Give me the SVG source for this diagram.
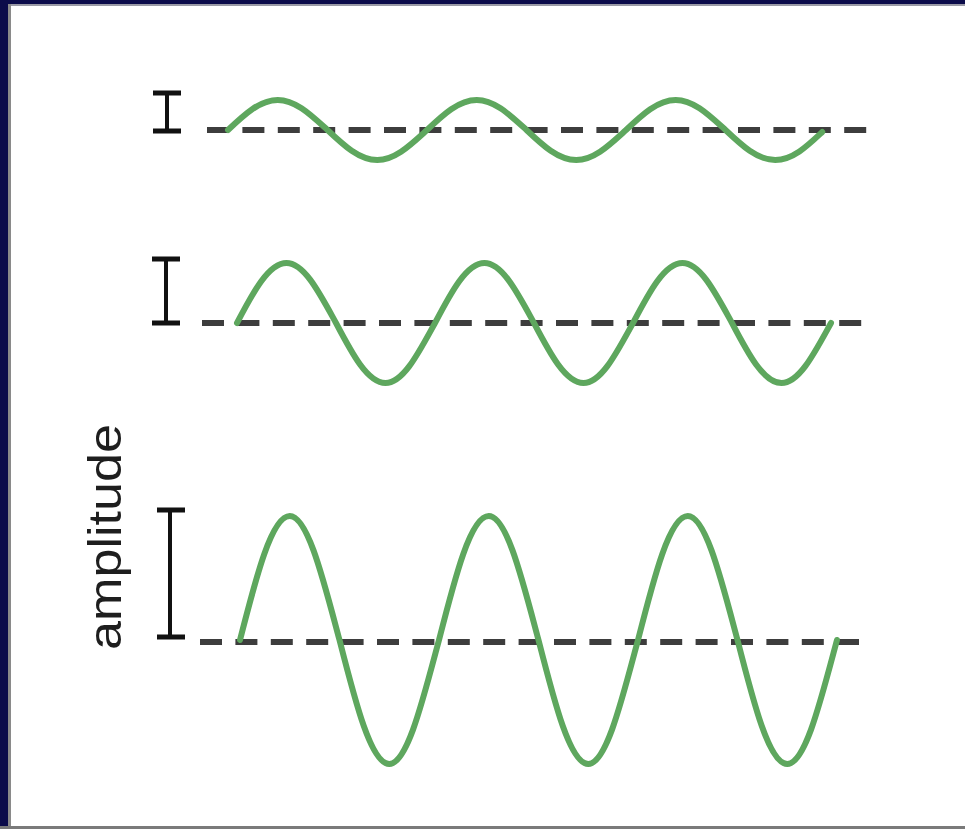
<svg xmlns="http://www.w3.org/2000/svg" width="965" height="829" viewBox="0 0 965 829">
  <style>
    .wave { fill: none; stroke: #5ea75e; stroke-width: 6; stroke-linecap: round; stroke-linejoin: round; }
    .base { fill: none; stroke: #3d3d3d; stroke-width: 6; stroke-dasharray: 22 13.4; }
    .bar { fill: none; stroke: #111; stroke-width: 4; }
    .cap { fill: none; stroke: #111; stroke-width: 5; }
    .label { font-family: "Liberation Sans", Arial, sans-serif; font-size: 46px; fill: #1e1e1e; }
  </style>
  <rect x="0" y="0" width="965" height="829" fill="#ffffff"/>
  <g id="frame">
    <rect x="0" y="0" width="965" height="4" fill="#0b0b4a"/>
    <rect x="0" y="4" width="965" height="2" fill="#9a9aa6"/>
    <rect x="0" y="0" width="8" height="829" fill="#0b0b4a"/>
    <rect x="8" y="4" width="3" height="825" fill="#8a8a8a"/>
    <rect x="0" y="826" width="965" height="3" fill="#7a7a7a"/>
  </g>
  <g id="wave-small">
    <path class="base" d="M207,130 H869"/>
    <path class="wave" d="M228,130 c16.22,-15.37 31.75,-30 49.75,-30 c18,0 33.53,15.37 49.75,30 c16.22,15.37 31.75,30 49.75,30 c18,0 33.53,-15.37 49.75,-30 c16.22,-15.37 31.75,-30 49.75,-30 c18,0 33.53,15.37 49.75,30 c16.22,15.37 31.75,30 49.75,30 c18,0 33.53,-15.37 49.75,-30 c16.22,-15.37 31.75,-30 49.75,-30 c18,0 33.53,15.37 49.75,30 c16.22,15.37 31.75,30 49.75,30 c18,0 33.53,-15.37 47,-28"/>
    <path class="bar" d="M167,93 V131"/>
    <path class="cap" d="M153,93 H181 M153,131 H181"/>
  </g>
  <g id="wave-medium">
    <path class="base" d="M202,323 H864"/>
    <path class="wave" d="M237,323 c16.14,-30.74 31.59,-60 49.5,-60 c17.91,0 33.360,30.74 49.5,60 c16.14,30.74 31.59,60 49.5,60 c17.91,0 33.36,-30.74 49.5,-60 c16.14,-30.74 31.59,-60 49.5,-60 c17.91,0 33.36,30.74 49.5,60 c16.14,30.74 31.59,60 49.5,60 c17.91,0 33.36,-30.74 49.5,-60 c16.14,-30.74 31.59,-60 49.5,-60 c17.91,0 33.36,30.74 49.5,60 c16.14,30.74 31.59,60 49.5,60 c17.91,0 33.36,-30.74 49.5,-60"/>
    <path class="bar" d="M166,259 V323"/>
    <path class="cap" d="M152,259 H180 M152,323 H180"/>
  </g>
  <g id="wave-large">
    <path class="base" d="M200,642 H859"/>
    <path class="wave" d="M240,640 c16.22,-63.53 31.75,-124 49.75,-124 c18,0 33.53,63.53 49.75,124 c16.22,63.530 31.75,124 49.75,124 c18,0 33.53,-63.53 49.75,-124 c16.22,-63.53 31.75,-124 49.75,-124 c18,0 33.53,63.53 49.75,124 c16.22,63.53 31.75,124 49.75,124 c18,0 33.53,-63.53 49.75,-124 c16.22,-63.53 31.75,-124 49.75,-124 c18,0 33.53,63.53 49.75,124 c16.22,63.53 31.75,124 49.75,124 c18,0 33.53,-63.53 49.75,-124"/>
    <path class="bar" d="M170,510 V637"/>
    <path class="cap" d="M157,510 H185 M157,637 H185"/>
  </g>
  <g id="label">
    <text class="label" transform="translate(121,537) rotate(-90)" text-anchor="middle" textLength="226" lengthAdjust="spacingAndGlyphs">amplitude</text>
  </g>
</svg>
